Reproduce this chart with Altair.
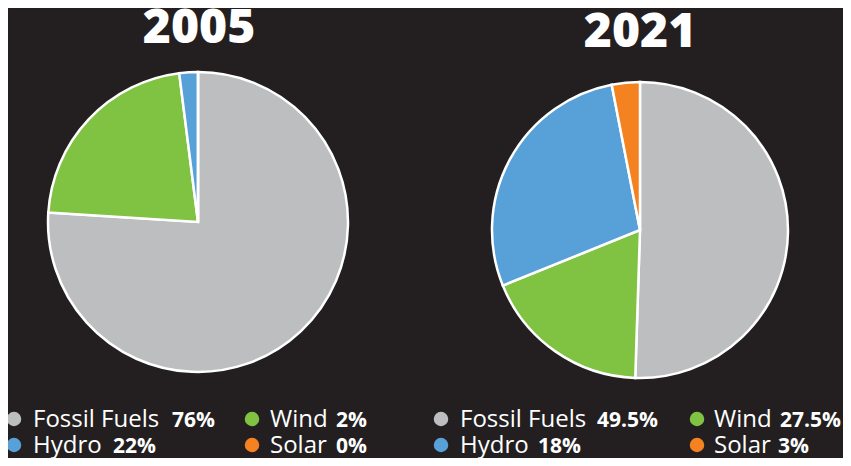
import altair as alt
import pandas as pd

# ---- data ----
years = ["2005", "2021"]
slice_keys = ["gray", "green", "blue", "orange"]
slice_values_2005 = [76, 22, 2, 0]
slice_values_2021 = [49.5, 18, 27.5, 3]

legend_labels = ["Fossil Fuels", "Wind", "Hydro", "Solar"]
legend_keys = ["gray", "green", "blue", "orange"]
legend_values_2005 = ["76%", "2%", "22%", "0%"]
legend_values_2021 = ["49.5%", "27.5%", "18%", "3%"]

# ---- styles / layout ----
palette = {"gray": "#bdbec0", "green": "#80c342", "blue": "#58a0d8", "orange": "#f58220"}
BG = "#231f20"
W, H = 835, 450
FONT = "Open Sans"

pies = {
    "2005": dict(cx=190, cy=214, r=150, tx=191, ty=35),
    "2021": dict(cx=632, cy=222, r=148, tx=632, ty=39),
}
legend_layout = {
    "2005": dict(dot=[6, 244, 6, 244], text=[25, 262, 25, 262], val=[164, 328, 105, 328]),
    "2021": dict(dot=[433, 689, 433, 689], text=[452, 706, 452, 706], val=[589, 772, 530, 770]),
}
row_dot_y = [411, 437]
row_text_y = [419, 445]

color_scale = alt.Scale(domain=list(palette.keys()), range=list(palette.values()))

layers = []
for year, vals in zip(years, [slice_values_2005, slice_values_2021]):
    p = pies[year]
    df = pd.DataFrame({"key": slice_keys, "value": vals, "order": range(len(vals))})
    arc = alt.Chart(df).mark_arc(radius=p["r"], stroke="white", strokeWidth=2.5).encode(
        theta=alt.Theta("value:Q", stack=True),
        order=alt.Order("order:Q"),
        color=alt.Color("key:N", scale=color_scale, legend=None),
        x=alt.value(p["cx"]),
        y=alt.value(p["cy"]),
    )
    layers.append(arc)
    title = alt.Chart(pd.DataFrame({"t": [year]})).mark_text(
        font=FONT, fontSize=48, fontWeight=800, color="white", align="center", baseline="alphabetic"
    ).encode(text="t:N", x=alt.value(p["tx"]), y=alt.value(p["ty"]))
    layers.append(title)

for year, lvals in zip(years, [legend_values_2005, legend_values_2021]):
    L = legend_layout[year]
    for i, (lab, key, v) in enumerate(zip(legend_labels, legend_keys, lvals)):
        row = i // 2
        d = pd.DataFrame({"key": [key], "label": [lab], "v": [v]})
        base = alt.Chart(d)
        layers.append(base.mark_circle(size=210, opacity=1).encode(
            x=alt.value(L["dot"][i]), y=alt.value(row_dot_y[row]),
            color=alt.Color("key:N", scale=color_scale, legend=None)))
        layers.append(base.mark_text(font=FONT, fontSize=24, color="white", align="left",
                                     baseline="alphabetic").encode(
            text="label:N", x=alt.value(L["text"][i]), y=alt.value(row_text_y[row])))
        layers.append(base.mark_text(font=FONT, fontSize=21, fontWeight="bold", color="white",
                                     align="left", baseline="alphabetic").encode(
            text="v:N", x=alt.value(L["val"][i]), y=alt.value(row_text_y[row])))

chart = alt.layer(*layers).resolve_scale(theta="independent").properties(
    width=W, height=H, background=BG, padding=0, autosize=alt.AutoSizeParams(type="none")
).configure_view(stroke=None)

chart.save("out.html", embed_options={"renderer": "svg", "actions": False})
